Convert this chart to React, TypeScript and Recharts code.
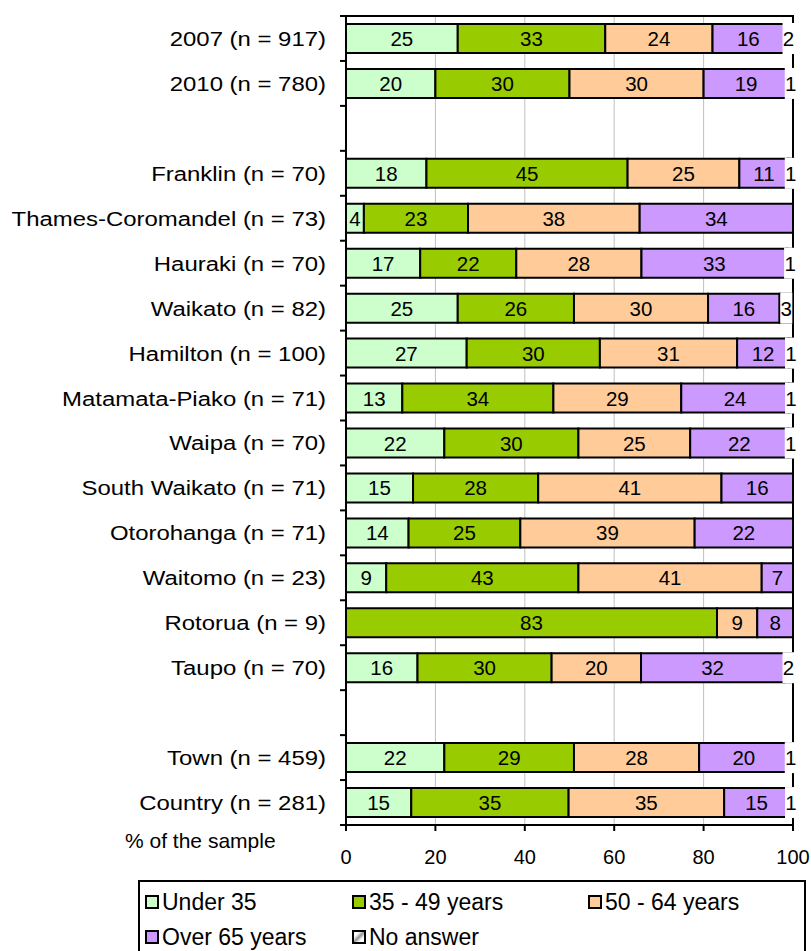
import { Bar, BarChart, CartesianGrid, LabelList, ReferenceArea, XAxis, YAxis } from "recharts"

const categories = [
  "2007 (n = 917)",
  "2010 (n = 780)",
  " ",
  "Franklin (n = 70)",
  "Thames-Coromandel (n = 73)",
  "Hauraki (n = 70)",
  "Waikato (n = 82)",
  "Hamilton (n = 100)",
  "Matamata-Piako (n = 71)",
  "Waipa (n = 70)",
  "South Waikato (n = 71)",
  "Otorohanga (n = 71)",
  "Waitomo (n = 23)",
  "Rotorua (n = 9)",
  "Taupo (n = 70)",
  "  ",
  "Town (n = 459)",
  "Country (n = 281)",
]

const under35 = [25, 20, 0, 18, 4, 16.6, 25, 27, 12.6, 22, 15, 14, 9, 0, 16, 0, 22, 14.6]
const years35to49 = [33, 30, 0, 45, 23.3, 21.5, 26, 29.8, 33.8, 30, 28, 25, 43, 83, 30, 0, 29, 35.2]
const years50to64 = [24, 30, 0, 25, 38.4, 28, 30, 30.7, 28.6, 25, 41, 39, 41, 9, 20, 0, 28, 34.8]
const over65 = [16, 19, 0, 11, 34.3, 32.6, 16, 11.6, 24.1, 22, 16, 22, 7, 8, 32, 0, 20, 14.5]
const noAnswer = [2, 1, 0, 1, 0, 1.3, 3, 0.9, 0.9, 1, 0, 0, 0, 0, 2, 0, 1, 0.9]

const xTicks = [0, 20, 40, 60, 80, 100]

const series = [
  { key: "under35", name: "Under 35", color: "#CCFFCC" },
  { key: "y3549", name: "35 - 49 years", color: "#99CC00" },
  { key: "y5064", name: "50 - 64 years", color: "#FFCC99" },
  { key: "over65", name: "Over 65 years", color: "#CC99FF" },
  { key: "noAnswer", name: "No answer", color: "#FFFFFF" },
]

const data = categories.map((name, i) => ({
  name,
  under35: under35[i],
  y3549: years35to49[i],
  y5064: years50to64[i],
  over65: over65[i],
  noAnswer: noAnswer[i],
}))

const FONT = "'Liberation Sans', Arial, sans-serif"
const PLOT_LEFT = 346
const PLOT_TOP = 16
const PLOT_BOTTOM = 825
const BAND = (PLOT_BOTTOM - PLOT_TOP) / categories.length

function CategoryTick(props: any) {
  const { y, payload, index } = props
  const label = String(payload.value).trim()
  return (
    <g>
      <line x1={PLOT_LEFT - 6} x2={PLOT_LEFT} y1={y - BAND / 2} y2={y - BAND / 2} stroke="#000" strokeWidth={2} />
      {index === categories.length - 1 && (
        <line x1={PLOT_LEFT - 6} x2={PLOT_LEFT} y1={y + BAND / 2} y2={y + BAND / 2} stroke="#000" strokeWidth={2} />
      )}
      {label && (
        <text
          transform={`translate(326,${y + 7.5}) scale(1.14,1)`}
          textAnchor="end"
          fontSize={21}
          fontFamily={FONT}
          fill="#000"
        >
          {label}
        </text>
      )}
    </g>
  )
}

function ValueTick(props: any) {
  const { x, payload } = props
  return (
    <text x={x} y={864} textAnchor="middle" fontSize={20} fontFamily={FONT} fill="#000">
      {payload.value}
    </text>
  )
}

function SegmentLabel(props: any) {
  const { x, y, width, height, value, boxed } = props
  if (!value) return null
  const cx = x + width / 2
  const cy = y + height / 2
  const text = String(Math.round(value))
  return (
    <g>
      {boxed && <rect x={cx - 6} y={y - 1} width={12} height={height + 2} fill="#fff" />}
      <text x={cx} y={cy + 7.5} textAnchor="middle" fontSize={20.5} fontFamily={FONT} fill="#000">
        {text}
      </text>
    </g>
  )
}

function LegendBox() {
  const items = [
    { s: series[0], left: 143, top: 901 },
    { s: series[1], left: 350, top: 901 },
    { s: series[2], left: 586, top: 901 },
    { s: series[3], left: 143, top: 936 },
    { s: series[4], left: 350, top: 936 },
  ]
  return (
    <div
      style={{
        position: "absolute",
        left: 138,
        top: 880,
        width: 668,
        height: 90,
        border: "2px solid #000",
        boxSizing: "border-box",
      }}
    >
      {items.map(({ s, left, top }) => (
        <div
          key={s.key}
          style={{
            position: "absolute",
            left: left - 138,
            top: top - 880 - 15,
            height: 28,
            display: "flex",
            alignItems: "center",
            fontFamily: FONT,
            fontSize: 23,
            whiteSpace: "nowrap",
          }}
        >
          <span
            style={{
              display: "inline-block",
              width: 14,
              height: 14,
              border: "2px solid #000",
              boxSizing: "border-box",
              marginRight: 3,
              background:
                s.key === "noAnswer"
                  ? "linear-gradient(135deg, #fff 25%, #999 50%, #fff 75%)"
                  : s.color,
            }}
          />
          {s.name}
        </div>
      ))}
    </div>
  )
}

export default function App() {
  return (
    <div style={{ position: "absolute", left: 0, top: 0, width: 811, height: 951, overflow: "hidden", background: "#fff" }}>
      <BarChart
        width={811}
        height={870}
        data={data}
        layout="vertical"
        barSize={29}
        margin={{ top: PLOT_TOP, right: 18, left: 0, bottom: 0 }}
      >
        <CartesianGrid horizontal={false} stroke="#c0c0c0" strokeWidth={1} />
        <XAxis
          type="number"
          domain={[0, 100]}
          ticks={xTicks}
          height={45}
          tick={<ValueTick />}
          tickSize={6}
          tickLine={{ stroke: "#000", strokeWidth: 2 }}
          axisLine={{ stroke: "#000", strokeWidth: 2 }}
        />
        <YAxis
          type="category"
          dataKey="name"
          width={PLOT_LEFT}
          interval={0}
          tickLine={false}
          tick={<CategoryTick />}
          axisLine={{ stroke: "#000", strokeWidth: 2 }}
        />
        <ReferenceArea x1={0} x2={100} fill="none" stroke="#000" strokeWidth={2} ifOverflow="visible" />
        {series.map((s) => (
          <Bar
            key={s.key}
            dataKey={s.key}
            name={s.name}
            stackId="age"
            fill={s.color}
            stroke="#000"
            strokeWidth={2}
            isAnimationActive={false}
          >
            <LabelList dataKey={s.key} content={<SegmentLabel boxed={s.key === "noAnswer"} />} />
          </Bar>
        ))}
      </BarChart>
      <div
        style={{
          position: "absolute",
          left: 125,
          top: 829,
          fontFamily: FONT,
          fontSize: 21,
          whiteSpace: "nowrap",
        }}
      >
        % of the sample
      </div>
      <LegendBox />
    </div>
  )
}
